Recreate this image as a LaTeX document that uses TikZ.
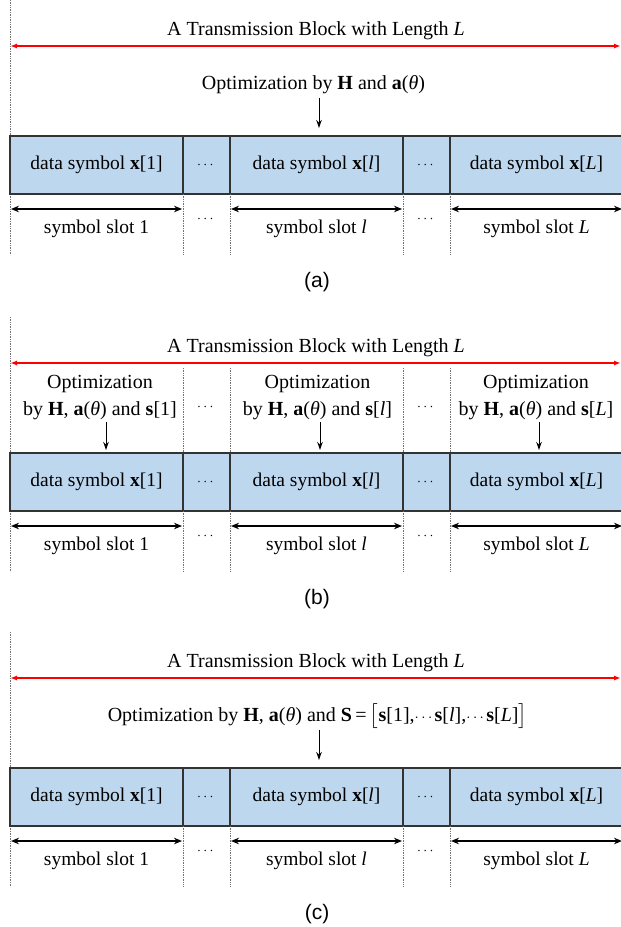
\RequirePackage{fix-cm}
\documentclass[tikz,border=0pt]{standalone}
\usepackage{amsmath}
\usepackage{fontspec}
\setmainfont{Liberation Serif}
\newfontfamily\subfigsans{Liberation Sans}
\usetikzlibrary{arrows.meta}

\definecolor{slotblue}{RGB}{189,215,238}
\newcommand{\tightdots}{{\fontsize{15}{16}\selectfont$\cdots$}}

\tikzset{
  slotbox/.style={draw=black!80, line width=1.3pt, fill=slotblue, anchor=north west,
    minimum width=173pt, minimum height=58pt, inner sep=0pt, outer sep=0pt},
  gapbox/.style={slotbox, minimum width=47pt, font=\fontsize{14}{16}\selectfont},
  dotsfont/.style={font=\fontsize{14}{16}\selectfont},
  headtext/.style={font=\fontsize{20}{27}\selectfont},
  guide/.style={densely dotted, black!55, line width=0.7pt},
  lenarrow/.style={red, line width=1.6pt, {Latex[length=7pt,width=5pt]}-{Latex[length=7pt,width=5pt]}},
  slotarrow/.style={line width=1.4pt, {Stealth[length=8pt,width=6.5pt]}-{Stealth[length=8pt,width=6.5pt]},
    shorten <=1pt, shorten >=1pt},
  optarrow/.style={line width=1pt, -{Stealth[length=8pt,width=5.5pt]}},
}

% one transmission block: length, symbol boxes, slot widths and caption #1
\newcommand{\txblock}[1]{%
  \coordinate (top) at (10,0);
  \coordinate (bot) at (10,255);
  \draw[guide] (top) -- (bot);
  \coordinate (len0) at (10,46);
  \coordinate (len1) at (621,46);
  \draw[lenarrow] (len0) -- (len1);
  \node[headtext, anchor=base] (title) at (316,35) {A Transmission Block with Length \textit{L}};
  % data symbols
  \node[slotbox] (x1) at (10,136) {data symbol \textbf{x}[1]};
  \node[gapbox] (g1) at (183,136) {$\cdots$};
  \node[slotbox] (xl) at (230,136) {data symbol \textbf{x}[\textit{l}]};
  \node[gapbox] (g2) at (403,136) {$\cdots$};
  \node[slotbox] (xL) at (450,136) {data symbol \textbf{x}[\textit{L}]};
  % symbol slots
  \foreach \s/\lbl in {x1/1, xl/\textit{l}, xL/\textit{L}} {
    \draw[slotarrow] ([yshift=-15pt]\s.south west) -- ([yshift=-15pt]\s.south east);
    \node[anchor=base] (\s-slot) at ([yshift=-39pt]\s.south) {symbol slot \lbl};
  }
  \foreach \g in {g1,g2} {
    \draw[guide] (\g.south west) -- (\g.south west |- bot);
    \draw[guide] (\g.south east) -- (\g.south east |- bot);
    \node[dotsfont, anchor=base] (\g-dots) at ([yshift=-28pt]\g.south) {$\cdots$};
  }
  \node[anchor=base, font=\subfigsans\fontsize{21}{24}\selectfont] (cap) at (317,287.5) {(#1)};
}

\begin{document}
\begin{tikzpicture}[x=1pt, y=-1pt, font=\fontsize{19.5}{27}\selectfont]
\useasboundingbox (0,0) rectangle (621,927);

% (a) one optimization for the whole block
\begin{scope}[name prefix=a-]
  \txblock{a}
  \node[headtext, anchor=base] (opt) at (313.5,89) {Optimization by \textbf{H} and \textbf{a}(\textit{θ})};
  \coordinate (o) at (319,98);
  \draw[optarrow, shorten >=8pt] (o) -- (o |- xl.north);
\end{scope}

% (b) one optimization per symbol slot
\begin{scope}[shift={(0,317)}, name prefix=b-]
  \txblock{b}
  \coordinate (mid) at (10,51);
  \foreach \g in {g1,g2} {
    \draw[guide] (\g.north west |- mid) -- (\g.north west);
    \draw[guide] (\g.north east |- mid) -- (\g.north east);
    \node[dotsfont, anchor=base] (\g-odots) at ([yshift=43pt]\g.north) {$\cdots$};
  }
  \node[headtext, anchor=base, align=center] (opt1) at (100,98) {Optimization\\by \textbf{H}, \textbf{a}(\textit{θ}) and \textbf{s}[1]};
  \node[headtext, anchor=base, align=center] (optl) at (317.5,98) {Optimization\\by \textbf{H}, \textbf{a}(\textit{θ}) and \textbf{s}[\textit{l}]};
  \node[headtext, anchor=base, align=center] (optL) at (536,98) {Optimization\\by \textbf{H}, \textbf{a}(\textit{θ}) and \textbf{s}[\textit{L}]};
  \foreach \s/\ox in {x1/106, xl/320, xL/539} {
    \coordinate (o\s) at (\ox,105);
    \draw[optarrow, shorten >=3pt] (o\s) -- (o\s |- \s.north);
  }
\end{scope}

% (c) one optimization over all the slots
\begin{scope}[shift={(0,632)}, name prefix=c-]
  \txblock{c}
  \node[headtext, anchor=base] (opt) at (317.5,89) {Optimization by \textbf{H}, \textbf{a}(\textit{θ}) and \textbf{S}\,=\,$\bigl[$\textbf{s}[1],\tightdots\textbf{s}[\textit{l}],\tightdots\textbf{s}[\textit{L}]$\bigr]$};
  \coordinate (o) at (319,98);
  \draw[optarrow, shorten >=8pt] (o) -- (o |- xl.north);
\end{scope}
\end{tikzpicture}
\end{document}
